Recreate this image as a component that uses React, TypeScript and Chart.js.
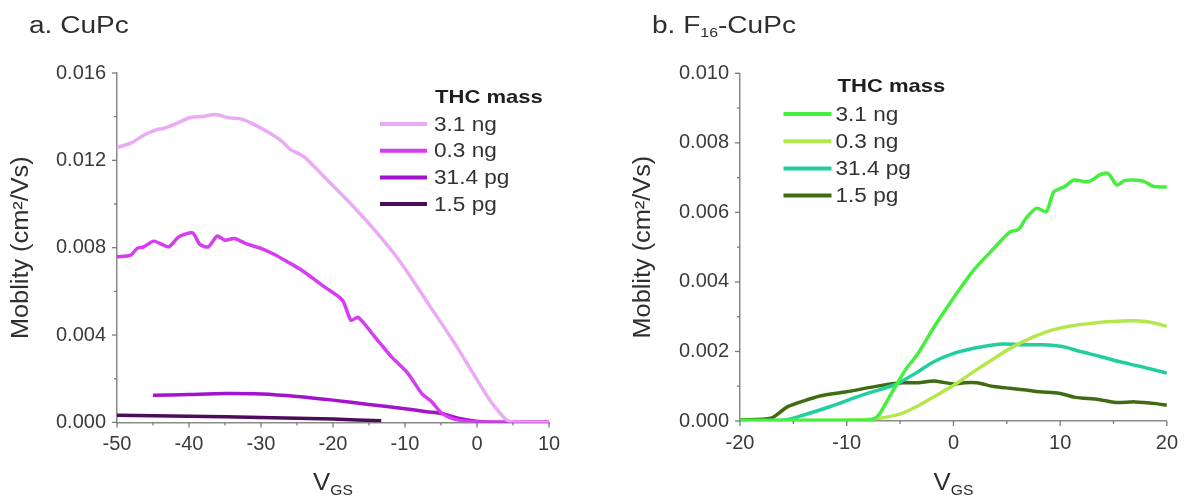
import React, { useEffect, useRef } from "react";
import { Chart, registerables } from "chart.js";
Chart.register(...registerables);

const FONT = "'Liberation Sans', Arial, Helvetica, sans-serif";

const seriesLabels = ["3.1 ng", "0.3 ng", "31.4 pg", "1.5 pg"];
const cupcColors = ["#ebaaf6", "#d63cf1", "#a312cc", "#4c0b5b"];
const f16Colors = ["#46ee3e", "#b3e84c", "#20cf9d", "#3f6c12"];

// ---- Panel a: CuPc ----
const cupc31ngV = [-50, -48, -46.3, -44.5, -43.5, -42, -39.8, -37.9, -36.3, -34.5, -32.8, -31, -28.7, -27, -25.9, -24, -21.2, -18, -14.2, -10.5, -6.8, -3.1, 0.6, 2, 3, 4, 5, 10];
const cupc31ngM = [0.01259, 0.0128, 0.01315, 0.01341, 0.01346, 0.01365, 0.01396, 0.01402, 0.0141, 0.01395, 0.0139, 0.01365, 0.01323, 0.01285, 0.01249, 0.01216, 0.01124, 0.01017, 0.0088, 0.00728, 0.00545, 0.00362, 0.00163, 0.00092, 0.0005, 0.00015, 0.00001, 0.0];
const cupc03ngV = [-50, -48.1, -47.2, -46.3, -44.9, -44, -42.8, -41.4, -39.5, -38.5, -37.3, -36.1, -35, -33.7, -31.9, -30, -28.2, -26.3, -24.5, -21.2, -18.7, -17.5, -16.5, -14.2, -11.9, -9.6, -7.7, -6.3, -4.9, -3.1, -0.3, 5, 10];
const cupc03ngM = [0.00758, 0.00766, 0.00797, 0.00804, 0.0083, 0.00819, 0.00804, 0.0085, 0.00868, 0.00815, 0.00804, 0.00853, 0.00834, 0.00842, 0.00816, 0.00797, 0.0077, 0.00735, 0.007, 0.00621, 0.0056, 0.00468, 0.00481, 0.00392, 0.00301, 0.00225, 0.00133, 0.00095, 0.00042, 0.00014, 0.00003, 0.00001, 0.00002];
const cupc314pgV = [-45, -40, -35, -30, -25, -20, -15, -10, -7, -4.9, -2.6, 0.6, 5, 10];
const cupc314pgM = [0.00124, 0.00128, 0.00132, 0.0013, 0.00119, 0.00102, 0.00082, 0.00063, 0.00049, 0.00041, 0.00019, 0.00003, 0.00001, 0.00002];
const cupc15pgV = [-50, -40, -30, -20, -13.3];
const cupc15pgM = [0.00033, 0.00028, 0.00023, 0.00015, 0.00007];

// ---- Panel b: F16-CuPc ----
const f1631ngV = [-20, -8, -7.6, -7, -5.8, -4.5, -3.3, -1.8, 0.1, 1.9, 3.8, 5.3, 6.1, 6.8, 7.8, 8.7, 9.4, 10.4, 11.3, 12.4, 13, 13.7, 14.5, 15.3, 16.1, 17.8, 18.7, 20];
const f1631ngM = [0.00002, 0.00002, 0.00004, 0.00017, 0.0008, 0.00147, 0.00195, 0.00271, 0.00358, 0.00434, 0.00497, 0.00544, 0.00551, 0.00583, 0.00612, 0.00602, 0.00659, 0.00674, 0.00693, 0.00688, 0.00693, 0.00708, 0.00712, 0.00679, 0.00692, 0.0069, 0.00675, 0.00673];
const f1603ngV = [-20, -10, -7, -4.8, -3.3, -1.8, 0.1, 1.9, 3.8, 5.6, 7.5, 9.3, 11.1, 13, 14.8, 17, 18.5, 20];
const f1603ngM = [0.00001, 0.00002, 0.00008, 0.00022, 0.00044, 0.0007, 0.00104, 0.00142, 0.0018, 0.00214, 0.00242, 0.00262, 0.00274, 0.00281, 0.00286, 0.00288, 0.00284, 0.00272];
const f16314pgV = [-20, -16, -14.6, -11.6, -8.5, -5.4, -4.8, -3.3, -1.8, 0.1, 1.9, 4.3, 6.8, 8.3, 10.2, 12, 13.6, 15.5, 17.5, 20];
const f16314pgM = [0.00001, 0.00002, 0.00012, 0.00041, 0.00075, 0.00105, 0.00115, 0.00142, 0.00171, 0.00195, 0.00209, 0.00221, 0.00219, 0.00219, 0.00214, 0.00199, 0.00187, 0.00171, 0.00157, 0.00138];
const f1615pgV = [-20, -17.1, -15.6, -14, -12.5, -10, -7, -4.8, -3.3, -1.8, 0.1, 1, 2.2, 3.8, 5.3, 6.8, 8.1, 9.9, 11.4, 13.6, 15.2, 17, 19, 20];
const f1615pgM = [0.00003, 0.00008, 0.0004, 0.00058, 0.00072, 0.00084, 0.00101, 0.0011, 0.0011, 0.00115, 0.00106, 0.0011, 0.0011, 0.00099, 0.00094, 0.00089, 0.00084, 0.0008, 0.00068, 0.00062, 0.00053, 0.00055, 0.0005, 0.00045];

const cupcYTicks = { min: 0, max: 0.016, minor: 0.002, major: 0.004 };
const cupcXTicks = { min: -50, max: 10, minor: 5, major: 10 };
const f16YTicks = { min: 0, max: 0.01, minor: 0.001, major: 0.002 };
const f16XTicks = { min: -20, max: 20, minor: 5, major: 10 };

const yTitleText = "Moblity (cm\u00B2/Vs)";
const legendTitle = "THC mass";

type Part = { text: string; size: number; dy?: number; bold?: boolean };

function pts(v: number[], m: number[]) {
  return v.map((x, i) => ({ x, y: m[i] }));
}

// draws text runs, stretched horizontally by sx (text direction)
function drawRich(
  ctx: CanvasRenderingContext2D,
  parts: Part[],
  x: number,
  y: number,
  align: "left" | "center",
  sx: number
) {
  let total = 0;
  const widths = parts.map((p) => {
    ctx.font = `${p.bold ? "bold " : ""}${p.size}px ${FONT}`;
    const w = ctx.measureText(p.text).width;
    total += w;
    return w;
  });
  const start = align === "center" ? x - (total * sx) / 2 : x;
  ctx.save();
  ctx.translate(start, 0);
  ctx.scale(sx, 1);
  ctx.textAlign = "left";
  ctx.textBaseline = "alphabetic";
  let cx = 0;
  parts.forEach((p, i) => {
    ctx.font = `${p.bold ? "bold " : ""}${p.size}px ${FONT}`;
    ctx.fillText(p.text, cx, y + (p.dy || 0));
    cx += widths[i];
  });
  ctx.restore();
}

function drawStretched(ctx: CanvasRenderingContext2D, text: string, x: number, y: number, sx: number, font: string) {
  ctx.save();
  ctx.translate(x, y);
  ctx.scale(sx, 1);
  ctx.font = font;
  ctx.textAlign = "left";
  ctx.textBaseline = "middle";
  ctx.fillText(text, 0, 0);
  ctx.restore();
}

const decorPlugin = {
  id: "decor",
  afterDraw(chart: any, _args: any, opts: any) {
    const ctx: CanvasRenderingContext2D = chart.ctx;
    const area = chart.chartArea;
    const xs = chart.scales.x;
    const ys = chart.scales.y;
    ctx.save();
    // tick marks (long for labelled, short for minor)
    ctx.strokeStyle = "#7a7a7a";
    ctx.lineWidth = 1.3;
    xs.ticks.forEach((t: any) => {
      const p = xs.getPixelForValue(t.value);
      const len = t.label ? 5 : 3;
      ctx.beginPath();
      ctx.moveTo(p, xs.top);
      ctx.lineTo(p, xs.top + len);
      ctx.stroke();
    });
    ys.ticks.forEach((t: any) => {
      const p = ys.getPixelForValue(t.value);
      const len = t.label ? 5 : 3;
      ctx.beginPath();
      ctx.moveTo(ys.right, p);
      ctx.lineTo(ys.right - len, p);
      ctx.stroke();
    });
    // panel title
    ctx.fillStyle = "#2e2e2e";
    drawRich(ctx, opts.title, opts.titleX, opts.titleY, "left", 1.22);
    // x title
    drawRich(
      ctx,
      [
        { text: "V", size: 23 },
        { text: "GS", size: 14, dy: 5 },
      ],
      (area.left + area.right) / 2,
      opts.xTitleY,
      "center",
      1.12
    );
    // y title
    ctx.save();
    ctx.translate(opts.yTitleX, (area.top + area.bottom) / 2);
    ctx.rotate(-Math.PI / 2);
    ctx.scale(1.1, 1);
    ctx.font = `23px ${FONT}`;
    ctx.textAlign = "center";
    ctx.textBaseline = "middle";
    ctx.fillText(yTitleText, 0, 0);
    ctx.restore();
    // legend
    const lg = opts.legend;
    ctx.fillStyle = "#1e1e1e";
    drawStretched(ctx, legendTitle, lg.headerX, lg.headerY, 1.16, `bold 19px ${FONT}`);
    chart.data.datasets.forEach((ds: any, i: number) => {
      const y = lg.firstY + i * lg.rowH;
      ctx.strokeStyle = ds.borderColor;
      ctx.lineWidth = 4;
      ctx.beginPath();
      ctx.moveTo(lg.lineX0, y);
      ctx.lineTo(lg.lineX1, y);
      ctx.stroke();
      ctx.fillStyle = "#333";
      drawStretched(ctx, ds.label, lg.textX, y + 1, 1.13, `20px ${FONT}`);
    });
    ctx.restore();
  },
};

function isMajor(v: number, step: number) {
  const r = v / step;
  return Math.abs(r - Math.round(r)) < 1e-6;
}

function makeConfig(
  datasets: { label: string; color: string; v: number[]; m: number[] }[],
  xt: any,
  yt: any,
  layout: any,
  decor: any
) {
  return {
    type: "line",
    data: {
      datasets: datasets.map((d) => ({
        label: d.label,
        data: pts(d.v, d.m),
        borderColor: d.color,
        backgroundColor: d.color,
        borderWidth: 3.5,
        pointRadius: 0,
        tension: 0.25,
        fill: false,
      })),
    },
    options: {
      responsive: false,
      animation: false,
      events: [],
      layout: { padding: layout.padding },
      plugins: {
        legend: { display: false },
        tooltip: { enabled: false },
        title: { display: false },
        decor,
      },
      scales: {
        x: {
          type: "linear",
          min: xt.min,
          max: xt.max,
          afterFit: (s: any) => {
            s.height = layout.xHeight;
          },
          border: { display: true, color: "#8a8a8a", width: 1.5 },
          grid: { display: true, drawOnChartArea: false, drawTicks: false },
          ticks: {
            stepSize: xt.minor,
            autoSkip: false,
            maxRotation: 0,
            padding: 10,
            color: "#3a3a3a",
            font: { family: FONT, size: 20 },
            callback: (v: number) => (isMajor(v, xt.major) ? String(Math.round(v)) : ""),
          },
        },
        y: {
          type: "linear",
          min: yt.min,
          max: yt.max,
          afterFit: (s: any) => {
            s.width = layout.yWidth;
          },
          border: { display: true, color: "#8a8a8a", width: 1.5 },
          grid: { display: true, drawOnChartArea: false, drawTicks: false },
          ticks: {
            stepSize: yt.minor,
            autoSkip: false,
            padding: 11,
            color: "#3a3a3a",
            font: { family: FONT, size: 20 },
            callback: (v: number) => (isMajor(v, yt.major) ? v.toFixed(3) : ""),
          },
        },
      },
    },
    plugins: [decorPlugin],
  } as any;
}

function Panel({ config, left }: { config: any; left: number }) {
  const ref = useRef<HTMLCanvasElement>(null);
  useEffect(() => {
    if (!ref.current) return;
    const ch = new Chart(ref.current, config);
    return () => ch.destroy();
  }, [config]);
  return (
    <canvas
      ref={ref}
      width={594}
      height={496}
      style={{ position: "absolute", left, top: 0, width: 594, height: 496 }}
    />
  );
}

const cupcConfig = makeConfig(
  [
    { label: seriesLabels[0], color: cupcColors[0], v: cupc31ngV, m: cupc31ngM },
    { label: seriesLabels[1], color: cupcColors[1], v: cupc03ngV, m: cupc03ngM },
    { label: seriesLabels[2], color: cupcColors[2], v: cupc314pgV, m: cupc314pgM },
    { label: seriesLabels[3], color: cupcColors[3], v: cupc15pgV, m: cupc15pgM },
  ],
  cupcXTicks,
  cupcYTicks,
  { padding: { top: 73, right: 45, bottom: 0, left: 0 }, yWidth: 117, xHeight: 73.6 },
  {
    title: [{ text: "a. CuPc", size: 23 }],
    titleX: 29,
    titleY: 33,
    xTitleY: 490,
    yTitleX: 22,
    legend: { headerX: 435, headerY: 98, lineX0: 380, lineX1: 427, textX: 434, firstY: 124, rowH: 26.7 },
  }
);

const f16Config = makeConfig(
  [
    { label: seriesLabels[0], color: f16Colors[0], v: f1631ngV, m: f1631ngM },
    { label: seriesLabels[1], color: f16Colors[1], v: f1603ngV, m: f1603ngM },
    { label: seriesLabels[2], color: f16Colors[2], v: f16314pgV, m: f16314pgM },
    { label: seriesLabels[3], color: f16Colors[3], v: f1615pgV, m: f1615pgM },
  ],
  f16XTicks,
  f16YTicks,
  { padding: { top: 73.3, right: 13, bottom: 0, left: 0 }, yWidth: 146, xHeight: 75 },
  {
    title: [
      { text: "b. F", size: 23 },
      { text: "16", size: 13, dy: 4 },
      { text: "-CuPc", size: 23 },
    ],
    titleX: 58,
    titleY: 33,
    xTitleY: 490,
    yTitleX: 50,
    legend: { headerX: 243.5, headerY: 86.7, lineX0: 189.5, lineX1: 237.5, textX: 241.5, firstY: 114, rowH: 27.2 },
  }
);

export default function App() {
  useEffect(() => {
    document.body.style.margin = "0";
  }, []);
  return (
    <div style={{ position: "relative", width: 1188, height: 496, background: "#fff", overflow: "hidden" }}>
      <Panel config={cupcConfig} left={0} />
      <Panel config={f16Config} left={594} />
    </div>
  );
}
